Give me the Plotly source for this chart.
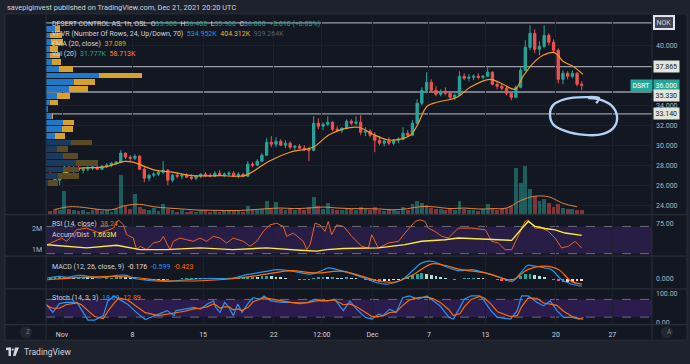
import plotly.graph_objects as go

W, H = 690, 364

# ---------------- time axis (trading-day units, Nov 1 = 0) ----------------
tick_vals = [0, 5, 10, 15, 18.41, 22, 26, 30, 35, 39]
tick_text = ["Nov", "8", "15", "22", "12:00", "Dec", "7", "13", "20", "27"]
first_day = -1          # Oct 29
bars_per_day = 3

# ---------------- price candles (3 per trading day) ----------------
opens = [27.0, 26.8, 26.5,  26.7, 27.8, 27.5,  27.7, 27.5, 27.6,  27.7, 27.8, 27.6,
         27.9, 28.0, 28.2,  28.3, 29.2, 28.8,  28.7, 28.9, 27.6,  26.7, 27.0, 27.1,
         27.3, 27.5, 26.5,  27.0, 26.9, 27.0,  26.8, 26.7, 26.9,  27.1, 27.0, 26.9,
         27.2, 27.0, 27.1,  27.2, 26.9, 27.1,  26.9, 28.1, 28.0,  28.4, 29.0, 30.3,
         30.1, 30.4, 30.0,  30.2, 29.8, 29.9,  29.7, 29.6, 29.5,  32.2, 31.9, 32.1,
         32.3, 31.6, 31.5,  31.7, 32.4, 32.2,  32.3, 31.3, 31.4,  31.0, 30.5, 30.2,
         30.4, 30.2, 30.5,  30.6, 31.2, 31.0,  32.2, 34.2, 35.5,  36.3, 35.5, 35.1,
         35.4, 35.2, 34.8,  35.0, 36.9, 36.7,  36.8, 36.9, 36.8,  36.9, 37.3, 36.1,
         35.9, 35.7, 35.2,  34.8, 35.8, 37.5,  39.8, 41.2, 39.6,  39.9, 41.0, 40.3,
         39.5, 36.6, 37.2,  36.9, 37.2, 36.1]
highs = [27.3, 27.0, 26.9,  28.0, 28.1, 27.9,  28.0, 27.8, 27.9,  28.0, 28.0, 28.0,
         28.2, 28.3, 28.4,  29.5, 29.3, 29.0,  29.1, 29.0, 27.9,  27.1, 27.3, 27.5,
         28.4, 27.6, 27.1,  27.3, 27.2, 27.2,  27.1, 27.0, 27.2,  27.3, 27.2, 27.4,
         27.5, 27.3, 27.4,  27.4, 27.3, 27.2,  28.4, 28.3, 28.6,  29.2, 30.7, 30.9,
         30.8, 30.6, 30.5,  30.4, 30.0, 30.1,  30.0, 29.8, 32.9,  32.7, 32.3, 32.9,
         32.4, 31.9, 31.8,  32.6, 32.6, 32.9,  33.0, 31.8, 31.6,  31.3, 30.9, 30.6,
         30.8, 30.6, 30.8,  31.8, 31.5, 32.5,  34.6, 35.8, 37.3,  36.6, 35.9, 35.6,
         35.8, 35.4, 35.2,  37.4, 37.2, 37.1,  37.1, 37.2, 37.0,  37.9, 37.4, 36.4,
         36.2, 35.9, 35.4,  36.0, 37.8, 40.5,  42.0, 41.6, 40.4,  42.0, 41.2, 40.6,
         39.7, 37.5, 37.4,  37.5, 37.3, 36.4]
lows = [26.6, 26.2, 26.0,  26.6, 27.3, 27.2,  27.4, 27.2, 27.4,  27.5, 27.5, 27.5,
        27.7, 27.8, 28.0,  28.2, 28.6, 28.4,  28.5, 27.5, 26.3,  26.4, 26.8, 26.9,
        27.1, 26.0, 26.3,  26.7, 26.6, 26.7,  26.5, 26.5, 26.7,  26.8, 26.8, 26.8,
        26.9, 26.8, 26.9,  26.8, 26.7, 26.8,  26.8, 27.8, 27.9,  28.3, 28.9, 29.8,
        29.8, 29.9, 29.7,  29.6, 29.5, 29.6,  29.4, 28.4, 29.4,  31.6, 31.5, 31.9,
        31.4, 31.3, 31.2,  31.6, 32.0, 32.0,  31.0, 30.9, 30.8,  29.3, 30.0, 29.9,
        30.0, 30.0, 30.2,  30.5, 30.8, 30.9,  32.1, 34.0, 35.2,  35.3, 34.9, 34.9,
        35.0, 34.6, 34.5,  34.9, 36.5, 36.4,  36.5, 36.6, 36.6,  36.8, 36.0, 35.6,
        35.5, 35.0, 34.5,  34.7, 35.7, 37.4,  39.5, 39.2, 39.0,  39.7, 40.0, 39.3,
        36.2, 36.1, 36.6,  36.7, 35.9, 35.5]
closes = [26.8, 26.5, 26.7,  27.8, 27.5, 27.7,  27.5, 27.6, 27.7,  27.8, 27.6, 27.9,
          28.0, 28.2, 28.3,  29.2, 28.8, 28.7,  28.9, 27.6, 26.7,  27.0, 27.1, 27.3,
          27.5, 26.5, 27.0,  26.9, 27.0, 26.8,  26.7, 26.9, 27.1,  27.0, 26.9, 27.2,
          27.0, 27.1, 27.2,  26.9, 27.1, 26.9,  28.1, 28.0, 28.4,  29.0, 30.3, 30.1,
          30.4, 30.0, 30.2,  29.8, 29.9, 29.7,  29.6, 29.5, 32.2,  31.9, 32.1, 32.3,
          31.6, 31.5, 31.7,  32.4, 32.2, 32.3,  31.3, 31.4, 31.0,  30.5, 30.2, 30.4,
          30.2, 30.5, 30.6,  31.2, 31.0, 32.2,  34.2, 35.5, 36.3,  35.5, 35.1, 35.4,
          35.2, 34.8, 35.0,  36.9, 36.7, 36.8,  36.9, 36.8, 36.9,  37.3, 36.1, 35.9,
          35.7, 35.2, 34.8,  35.8, 37.5, 39.8,  41.2, 39.6, 39.9,  41.0, 40.3, 39.5,
          36.6, 37.2, 36.9,  37.2, 36.1, 36.0]

# volume per bar (thousand shares)
volumes = [25, 40, 30,  185, 45, 30,  25, 35, 20,  30, 45, 25,  35, 20, 40,
           320, 70, 45,  160, 55, 40,  30, 50, 25,  80, 40, 30,  20, 35, 18,
           25, 20, 35,  30, 18, 25,  20, 35, 22,  25, 30, 20,  70, 40, 35,
           45, 110, 40,  95, 45, 35,  40, 30, 45,  35, 55, 140,  70, 45, 90,
           40, 35, 30,  50, 40, 35,  60, 40, 35,  55, 30, 25,  35, 30, 25,
           60, 35, 80,  110, 90, 75,  50, 45, 40,  35, 50, 30,  105, 40, 35,
           30, 25, 40,  80, 50, 35,  40, 50, 70,  370, 250, 390,  200, 150, 110,
           120, 90, 60,  80, 50, 45,  40, 35, 32]
# Vol(20) average, one reading per trading day
vol_ma = [38, 60, 55, 40, 36, 70, 80, 60, 50, 42, 34, 32, 30, 30, 36, 45, 50, 45, 50,
          58, 50, 45, 45, 42, 36, 45, 62, 58, 45, 50, 42, 45, 50, 110, 145, 140, 88, 60]

# EMA(20) readings
ema_x = [-1.06, 0, 1.13, 3.05, 4.46, 5.03, 6.59, 7.8, 9.21, 11.2, 12.97, 13.68, 14.74,
         16.16, 17.79, 19.0, 20.98, 22.04, 23.25, 24.66, 25.16, 25.87, 26.58, 28.0,
         28.92, 30.33, 31.25, 32.1, 32.67, 33.38, 34.09, 34.8, 35.08, 35.5, 36.2, 36.92]
ema_v = [26.7, 27.1, 27.66, 27.83, 28.38, 28.3, 27.5, 27.3, 26.96, 26.95, 26.96, 27.5, 28.45,
         29.3, 29.8, 31.1, 31.8, 31.1, 30.5, 30.96, 31.95, 33.9, 34.3, 34.8,
         35.8, 36.6, 36.1, 35.6, 36.9, 38.2, 39.0, 39.3, 39.1, 38.4, 37.9, 37.09]

# Volume profile (VPVR, 24 rows, bottom row first), thousand shares
vp_low, vp_high, vp_rows = 25.9, 42.0, 24
vp_up = [3, 18, 25.5, 45, 25.5, 16.5, 37.5, 13.5, 24, 25.5, 9, 3, 6, 16.5, 34.5, 42,
         79.5, 19.5, 9, 6, 6, 7.5, 6, 13.5]
vp_down = [15, 31.5, 24, 33, 22.5, 16.5, 31.5, 15, 16.5, 16.5, 1.5, 0, 12, 19.5, 28.5,
           31.5, 64.5, 21, 13.5, 15, 12, 18, 18, 7.5]
value_area_first_row = 7

# horizontal levels drawn on the chart
levels = [42.25, 37.865, 35.33, 33.14]

# hand-drawn loop (chart coordinates)
loop_x = [37.85, 38.06, 37.07, 35.65, 34.80, 34.58, 34.80, 35.65, 37.07, 38.34, 39.12,
          39.33, 38.91, 37.99, 37.28]
loop_y = [34.21, 34.71, 34.81, 34.61, 34.01, 33.11, 32.11, 31.43, 31.03, 31.13, 31.80,
          32.92, 34.01, 34.61, 34.71]

# RSI(14)
rsi_x = [-1.06, -0.02, 0.33, 1.04, 1.75, 2.69, 3.64, 4.0, 4.35, 4.58, 5.05, 5.29, 5.53, 6.0,
         6.47, 6.95, 7.18, 7.42, 7.65, 7.89, 8.36, 8.84, 9.3, 9.78, 10.25, 10.72, 11.2, 11.67,
         12.14, 12.85, 13.32, 13.8, 14.27, 14.74, 15.22, 15.68, 15.92, 16.39, 16.87, 17.1,
         17.34, 17.58, 17.93, 18.28, 18.64, 18.87, 19.11, 19.47, 19.94, 20.06, 20.53, 21.24,
         21.71, 21.95, 22.18, 22.42, 23.13, 23.84, 24.31, 24.78, 25.02, 25.37, 25.73, 25.96,
         26.43, 26.91, 27.38, 28.09, 29.03, 30.0, 30.45, 30.92, 31.4, 31.87, 32.34, 32.81,
         33.05, 33.52, 34.0, 34.47, 34.94, 35.41, 35.88, 36.36, 36.83]
rsi_v = [43.1, 52.9, 48.1, 65.1, 67.5, 60.2, 67.5, 79.6, 72.3, 57.8, 52.9, 35.8, 40.8, 35.8,
         45.6, 48.1, 55.4, 45.6, 35.8, 48.1, 52.9, 50.4, 48.1, 52.9, 48.1, 55.4, 52.9, 45.6,
         52.9, 48.1, 40.8, 48.1, 62.7, 72.3, 74.8, 70.0, 55.4, 60.2, 52.9, 48.1,
         35.8, 43.1, 74.8, 72.3, 62.7, 77.3, 57.8, 72.3, 70.0, 67.5, 55.4, 40.8,
         38.3, 57.8, 48.1, 38.3, 45.6, 48.1, 60.2, 72.3, 77.3, 79.6, 77.3, 67.5,
         62.7, 55.4, 52.9, 67.5, 67.5, 65.1, 48.1, 45.6, 35.8, 35.8, 57.8, 77.3,
         79.6, 67.5, 67.5, 62.7, 52.9, 38.3, 40.8, 48.1, 38.24]

# Accumulation / Distribution (millions)
ad_x = [-1.06, 0.33, 1.75, 3.87, 5.05, 5.53, 7.42, 9.78, 12.1, 14.5, 16.87, 18.05, 18.76,
        19.94, 22.42, 24.31, 25.49, 27.14, 28.09, 30.45, 31.87, 32.58, 33.05, 33.52, 34.23,
        34.94, 35.65, 36.83]
ad_v = [1.23, 1.16, 1.08, 1.20, 1.08, 1.0, 1.0, 1.08, 1.0, 1.08, 0.97, 0.93, 1.0,
        1.05, 1.08, 1.23, 1.39, 1.46, 1.54, 1.46, 1.43, 1.98, 2.31, 2.08, 1.98,
        1.92, 1.77, 1.663]

# MACD(12, 26, 9)
macd_x = [-1.06, -0.14, 0.35, 1.28, 2.69, 3.9, 4.6, 5.0, 5.7, 7.4, 8.8, 9.8, 12.1, 13.1,
          14.5, 15.2, 16.4, 17.6, 18.3, 18.9, 19.5, 20.0, 21.3, 22.4, 23.1, 24.1, 24.8, 25.5,
          26.2, 27.1, 28.1, 29.1, 30.0, 31.2, 31.9, 32.6, 33.0, 33.5, 34.2, 34.7, 35.4,
          36.1, 36.85]
macd_v = [0.06, 0.19, 0.11, 0.27, 0.06, 0.27, 0.27, 0.06, -0.08, -0.21, -0.08, 0.0, 0.06, 0.32,
          0.59, 0.72, 0.59, 0.37, 0.59, 0.86, 0.72, 0.59, 0.11, -0.34, -0.42, -0.08, 0.59, 1.26,
          1.39, 1.0, 0.64, 0.72, 0.46, 0.06, -0.21, 0.59, 1.07, 1.0, 0.86, 0.72, -0.08,
          -0.42, -0.599]
signal_x = [-1.06, 1.5, 3.9, 5.5, 7.4, 12.1, 14.5, 16.2, 18.0, 19.9, 22.4, 23.6, 24.8, 26.2,
            27.1, 28.3, 30.0, 31.9, 33.0, 34.2, 35.2, 36.1, 36.85]
signal_v = [-0.08, 0.11, 0.19, 0.06, -0.16, 0.0, 0.37, 0.64, 0.46, 0.59, -0.16, -0.26, 0.27,
            1.18, 1.07, 0.72, 0.46, -0.08, 0.72, 1.0, 0.72, -0.21, -0.423]
hist = [0.10, 0.12, 0.14,  0.15, 0.10, 0.06,  0.12, 0.14, 0.10,  0.04, -0.02, -0.04,
        0.04, 0.08, 0.10,  0.14, 0.12, 0.08,  0.02, -0.06, -0.12,  -0.14, -0.12, -0.10,
        -0.08, -0.10, -0.06,  -0.02, 0.02, 0.04,  0.05, 0.04, 0.03,  0.02, 0.01, -0.01,
        -0.02, 0.00, 0.02,  0.03, 0.04, 0.05,  0.12, 0.16, 0.14,  0.18, 0.22, 0.20,
        0.15, 0.10, 0.04,  -0.02, -0.06, -0.08,  -0.10, -0.12, 0.02,  0.10, 0.15, 0.12,
        0.12, 0.08, 0.04,  0.10, 0.08, 0.02,  -0.06, -0.12, -0.16,  -0.20, -0.22, -0.18,
        -0.16, -0.12, -0.08,  0.05, 0.15, 0.28,  0.38, 0.42, 0.36,  0.28, 0.22, 0.12,
        0.02, -0.06, -0.10,  -0.04, 0.02, 0.04,  0.06, 0.04, 0.02,  0.00, -0.06, -0.12,
        -0.16, -0.20, -0.14,  0.05, 0.25, 0.38,  0.40, 0.32, 0.22,  0.10, -0.02, -0.10,
        -0.18, -0.24, -0.22,  -0.22, -0.20, -0.176]

# Stochastic(14, 3, 3)
stoch_x = [-1.12, -0.65, -0.18, 0.28, 1.06, 1.38, 1.84, 2.31, 2.93, 3.25, 3.71, 4.03, 4.65,
           5.27, 5.9, 6.84, 7.46, 7.93, 8.08, 8.71, 9.33, 9.8, 10.27, 10.74, 10.89, 11.2,
           11.52, 11.83, 12.14, 12.45, 12.76, 13.23, 13.54, 14.01, 14.32, 14.79, 15.57,
           16.19, 16.82, 17.44, 17.91, 18.38, 18.84, 19.31, 19.94, 20.4, 20.87, 21.5, 21.96,
           22.43, 22.74, 23.21, 23.68, 24.15, 24.61, 25.24, 25.86, 26.33, 26.8, 27.42, 27.73,
           28.2, 28.51, 28.99, 29.61, 29.92, 30.39, 30.86, 31.79, 32.26, 32.57, 33.04, 33.66,
           34.13, 34.6, 35.07, 35.54, 36.16, 36.63, 36.94]
stoch_k = [64, 36, 66, 70, 70, 47, 10, 10, 25, 75, 92, 81, 64, 36, 12, 30, 42, 25, 42, 47,
           53, 47, 64, 75, 53, 36, 70, 53, 25, 64, 36, 70, 86, 81, 92, 75, 70, 70, 66, 70,
           81, 75, 75, 81, 42, 75, 47, 19, 13.6, 30, 25, 47, 36, 86, 92, 81, 92, 75, 58, 19,
           13.6, 53, 81, 92, 92, 75, 42, 19, 13.6, 42, 92, 92, 70, 58, 75, 42, 19, 19, 13.6,
           18.69]
stoch_d = [60, 50, 50, 62, 68, 62, 42, 22, 15, 40, 68, 85, 78, 58, 35, 25, 30, 32, 35, 40,
           48, 50, 55, 65, 62, 50, 55, 55, 45, 48, 42, 55, 72, 80, 86, 82, 75, 70, 68, 69,
           74, 77, 76, 78, 62, 65, 55, 35, 22, 22, 24, 35, 38, 60, 78, 86, 88, 82, 70, 45,
           25, 32, 55, 80, 90, 85, 65, 38, 22, 25, 55, 85, 84, 68, 65, 60, 40, 22, 16, 12.89]

# ---------------- layout helpers (pixels -> paper) ----------------
def fx(px):
    return px / W

def fy(py):
    return 1 - py / H

X0, X1 = 46, 652
PRICE = (17, 216)
RSI = (217.5, 257.5)
MACD = (259, 290.5)
STOCH = (292, 327)
FONT = "Roboto, Liberation Sans, Arial, sans-serif"
TXT = "#b2b5be"
UP, DOWN = "#26a69a", "#ef5350"
FS = 7

candle_x = [first_day + i // bars_per_day + (i % bars_per_day + 0.5) / bars_per_day
            for i in range(len(closes))]
day_mid = [first_day + j + 0.5 for j in range(len(vol_ma))]

fig = go.Figure()

# volume (overlay axis in price pane)
vol_colors = ["rgba(38,166,154,0.5)" if c >= o else "rgba(239,83,80,0.5)"
              for o, c in zip(opens, closes)]
fig.add_trace(go.Bar(x=candle_x, y=volumes, marker=dict(color=vol_colors, line_width=0),
                     width=0.8 / bars_per_day, xaxis="x", yaxis="y7"))
fig.add_trace(go.Scatter(x=day_mid, y=vol_ma, mode="lines", line=dict(color="#e0843c", width=1,
                         shape="spline"), xaxis="x", yaxis="y7"))

# candles
fig.add_trace(go.Candlestick(x=candle_x, open=opens, high=highs, low=lows, close=closes,
                             increasing=dict(line=dict(color=UP, width=1), fillcolor=UP),
                             decreasing=dict(line=dict(color=DOWN, width=1), fillcolor=DOWN),
                             whiskerwidth=0, xaxis="x", yaxis="y"))
fig.add_trace(go.Scatter(x=ema_x, y=ema_v, mode="lines",
                         line=dict(color="#f59b1b", width=1.2, shape="spline"),
                         xaxis="x", yaxis="y"))

# volume profile
step = (vp_high - vp_low) / vp_rows
vp_y = [vp_low + (i + 0.5) * step for i in range(vp_rows)]
up_col = ["#1f78c8" if i >= value_area_first_row else "#1a3a5e" for i in range(vp_rows)]
dn_col = ["#d6a12c" if i >= value_area_first_row else "#5a4a25" for i in range(vp_rows)]
fig.add_trace(go.Bar(y=vp_y, x=vp_up, orientation="h", width=step * 0.86,
                     marker=dict(color=up_col, line_width=0), xaxis="x2", yaxis="y"))
fig.add_trace(go.Bar(y=vp_y, x=vp_down, base=vp_up, orientation="h", width=step * 0.86,
                     marker=dict(color=dn_col, line_width=0), xaxis="x2", yaxis="y"))

# hand-drawn loop
fig.add_trace(go.Scatter(x=loop_x, y=loop_y, mode="lines",
                         line=dict(color="#b3d1f5", width=2.4, shape="spline", smoothing=1.0),
                         xaxis="x", yaxis="y"))

# RSI & A/D
fig.add_trace(go.Scatter(x=rsi_x, y=rsi_v, mode="lines", line=dict(color="#e8632a", width=1),
                         xaxis="x", yaxis="y3"))
fig.add_trace(go.Scatter(x=ad_x, y=[v * 1e6 for v in ad_v], mode="lines",
                         line=dict(color="#ffeb3b", width=1.4), xaxis="x", yaxis="y4"))

# MACD
hist_colors = []
for i, h in enumerate(hist):
    prev = hist[i - 1] if i else h
    if h >= 0:
        hist_colors.append("#26a69a" if h >= prev else "#b2dfdb")
    else:
        hist_colors.append("#ff5252" if h < prev else "#ffcdd2")
fig.add_trace(go.Bar(x=candle_x, y=hist, width=0.6 / bars_per_day,
                     marker=dict(color=hist_colors, line_width=0), xaxis="x", yaxis="y5"))
fig.add_trace(go.Scatter(x=macd_x, y=macd_v, mode="lines",
                         line=dict(color="#2196f3", width=1.2, shape="spline"),
                         xaxis="x", yaxis="y5"))
fig.add_trace(go.Scatter(x=signal_x, y=signal_v, mode="lines",
                         line=dict(color="#ff6d00", width=1.2, shape="spline"),
                         xaxis="x", yaxis="y5"))

# Stochastic
fig.add_trace(go.Scatter(x=stoch_x, y=stoch_k, mode="lines", line=dict(color="#2196f3", width=1.2),
                         xaxis="x", yaxis="y6"))
fig.add_trace(go.Scatter(x=stoch_x, y=stoch_d, mode="lines", line=dict(color="#ff6d00", width=1.2),
                         xaxis="x", yaxis="y6"))

GRID = "#1c2130"
axis_font = dict(family=FONT, size=FS, color=TXT)

def dom(p):
    return [fy(p[1]), fy(p[0])]

fig.update_layout(
    width=W, height=H, autosize=False,
    margin=dict(l=0, r=0, t=0, b=0),
    paper_bgcolor="#1e222d", plot_bgcolor="rgba(0,0,0,0)",
    showlegend=False, bargap=0, barmode="overlay",
    font=dict(family=FONT, size=FS, color=TXT),
    xaxis=dict(domain=[fx(X0), fx(X1)], range=[-1.134, 41.81], anchor="y6",
               tickvals=tick_vals, ticktext=tick_text,
               tickfont=dict(family=FONT, size=FS, color="#d1d4dc"),
               showgrid=True, gridcolor=GRID, gridwidth=1, zeroline=False, showline=False,
               ticks="", ticklabelstandoff=5, rangeslider=dict(visible=False), fixedrange=True),
    xaxis2=dict(overlaying="x", range=[0, 906], visible=False, anchor="y"),
    yaxis=dict(domain=dom(PRICE), range=[23.09, 42.85], side="right", anchor="x",
               tickvals=[24, 26, 28, 30, 32, 34, 40], tickformat=".3f", tickfont=axis_font,
               showgrid=True, gridcolor=GRID, zeroline=False, ticks="", ticklabelstandoff=3),
    yaxis7=dict(overlaying="y", range=[0, 1592], visible=False),
    yaxis3=dict(domain=dom(RSI), range=[27.4, 85.8], side="right", anchor="x",
                tickvals=[75], ticktext=["75.00"], tickfont=axis_font, showgrid=False,
                zeroline=False, ticks="", ticklabelstandoff=3),
    yaxis4=dict(overlaying="y3", range=[0.733e6, 2.576e6], side="left", anchor="x",
                tickvals=[1e6, 2e6], ticktext=["1M", "2M"], tickfont=axis_font, showgrid=False,
                zeroline=False, ticks="", ticklabelstandoff=3),
    yaxis5=dict(domain=dom(MACD), range=[-0.744, 1.736], side="right", anchor="x",
                tickvals=[0], ticktext=["0.000"], tickfont=axis_font, showgrid=False,
                zeroline=False, ticks="", ticklabelstandoff=3),
    yaxis6=dict(domain=dom(STOCH), range=[-4.4, 113.4], side="right", anchor="x",
                tickvals=[0, 100], ticktext=["0.00", "100.00"], tickfont=axis_font, showgrid=False,
                zeroline=False, ticks="", ticklabelstandoff=3),
)

shapes = []
# chart frame
shapes.append(dict(type="rect", xref="paper", yref="paper", x0=fx(5), x1=fx(687), y0=fy(343), y1=fy(14),
                   fillcolor="#131722", line=dict(color="#2a2e39", width=1), layer="below"))
# bands
shapes.append(dict(type="rect", xref="paper", yref="y3", x0=fx(X0), x1=fx(X1), y0=30, y1=70,
                   fillcolor="#271d45", line_width=0, layer="below"))
shapes.append(dict(type="rect", xref="paper", yref="y6", x0=fx(X0), x1=fx(X1), y0=20, y1=80,
                   fillcolor="#2b1c4d", line_width=0, layer="below"))
for ref, v in [("y3", 70), ("y3", 30), ("y6", 80), ("y6", 20)]:
    shapes.append(dict(type="line", xref="paper", yref=ref, x0=fx(X0), x1=fx(X1), y0=v, y1=v,
                       line=dict(color="#6a6d78", width=1, dash="dash"), layer="below"))
# level lines
for lv in levels:
    shapes.append(dict(type="line", xref="paper", yref="y", x0=fx(X0), x1=fx(X1), y0=lv, y1=lv,
                       line=dict(color="#9a9da6", width=1.4), layer="below"))
# pane separators & axis borders
for yy in [216.5, 258.3, 291.2, 327.4]:
    shapes.append(dict(type="line", xref="paper", yref="paper", x0=fx(5), x1=fx(687), y0=fy(yy), y1=fy(yy),
                       line=dict(color="#2a2e39", width=1.2)))
for xx in [X0, X1]:
    shapes.append(dict(type="line", xref="paper", yref="paper", x0=fx(xx), x1=fx(xx), y0=fy(343), y1=fy(14),
                       line=dict(color="#2a2e39", width=1)))
# small round buttons on the time axis
for cx in [26, 667]:
    shapes.append(dict(type="circle", xref="paper", yref="paper", x0=fx(cx - 6), x1=fx(cx + 6),
                       y0=fy(341), y1=fy(329), fillcolor="#22262f", line_width=0))
# TradingView logo mark
shapes.append(dict(type="rect", xref="paper", yref="paper", x0=fx(6), x1=fx(11), y0=fy(353), y1=fy(350.5),
                   fillcolor="#d1d4dc", line_width=0))
shapes.append(dict(type="rect", xref="paper", yref="paper", x0=fx(8.5), x1=fx(11), y0=fy(359), y1=fy(350.5),
                   fillcolor="#d1d4dc", line_width=0))
shapes.append(dict(type="circle", xref="paper", yref="paper", x0=fx(11.6), x1=fx(13.8), y0=fy(353.6), y1=fy(351.4),
                   fillcolor="#d1d4dc", line_width=0))
shapes.append(dict(type="path", xref="paper", yref="paper",
                   path=f"M {fx(15)},{fy(350.5)} L {fx(19)},{fy(350.5)} L {fx(15.5)},{fy(359)} L {fx(13)},{fy(359)} Z",
                   fillcolor="#d1d4dc", line_width=0))
fig.update_layout(shapes=shapes)

def c(col, s):
    return f"<span style='color:{col}'>{s}</span>"

sp = "\u2002"
ann = []
def text(px, py, s, size=FS, color="#d1d4dc", **kw):
    ann.append(dict(xref="paper", yref="paper", x=fx(px), y=fy(py), text=s, showarrow=False,
                    xanchor="left", yanchor="middle", font=dict(family=FONT, size=size, color=color), **kw))

text(5, 8, "savepiginvest published on TradingView.com, Dec 21, 2021 20:20 UTC", size=7.4)
g = "#26a69a"
text(50, 24, "DESERT CONTROL AS, 1h, OSL" + sp + "O" + c(g, "35.900") + sp + "H" + c(g, "36.400") + sp +
     "L" + c(g, "35.900") + sp + "C" + c(g, "36.000") + sp + c(g, "+0.010 (+0.03%)"))
text(50, 34.5, "VPVR (Number Of Rows, 24, Up/Down, 70)" + sp + c("#2196f3", "534.952K") + sp +
     c("#f0b429", "404.312K") + sp + c("#5d606b", "939.264K"))
text(50, 44.5, "EMA (20, close)" + sp + c("#ff9800", "37.089"))
text(50, 54.5, "Vol (20)" + sp + c(g, "31.777K") + sp + c("#ff8a3d", "58.713K"))
text(50, 225.5, "RSI (14, close)" + sp + c("#f06a24", "38.24"))
text(50, 236.5, "Accum/Dist" + sp + c("#ffeb3b", "1.663M"))
text(50, 269, "MACD (12, 26, close, 9)" + sp + c("#f8d7da", "-0.176") + sp + c("#2196f3", "-0.599") + sp +
     c("#ff6d00", "-0.423"))
text(50, 300.5, "Stoch (14, 3, 3)" + sp + c("#2196f3", "18.69") + sp + c("#ff6d00", "12.89"))
text(22, 355, "TradingView", size=8.5)
text(23.5, 335, "Z", size=6.5, color="#787b86")
text(664.5, 335, "A", size=6.5, color="#787b86")

def label(yval, s, bg, fg, px=653, yshift=0, yref="y", **kw):
    ann.append(dict(xref="paper", yref=yref, x=fx(px), y=yval, text=s, showarrow=False,
                    xanchor="left", yanchor="middle", bgcolor=bg, borderpad=1.5, yshift=yshift,
                    font=dict(family=FONT, size=FS, color=fg), **kw))

label(42.25, "NOK", "#434651", "#d1d4dc", px=653, bordercolor="#e0e3eb", borderwidth=2)
label(37.865, "37.865", "#e3e6da", "#131722")
label(36.0, "36.000", "#26a69a", "#ffffff")
label(36.0, "DSRT", "#26a69a", "#ffffff", px=630)
label(35.33, "35.330", "#e3e6da", "#131722", yshift=-4)
label(33.14, "33.140", "#e3e6da", "#131722")
fig.update_layout(annotations=ann)

fig.write_html("out.html", config={"displayModeBar": False, "staticPlot": True},
               post_script="document.body.style.margin='0';")
